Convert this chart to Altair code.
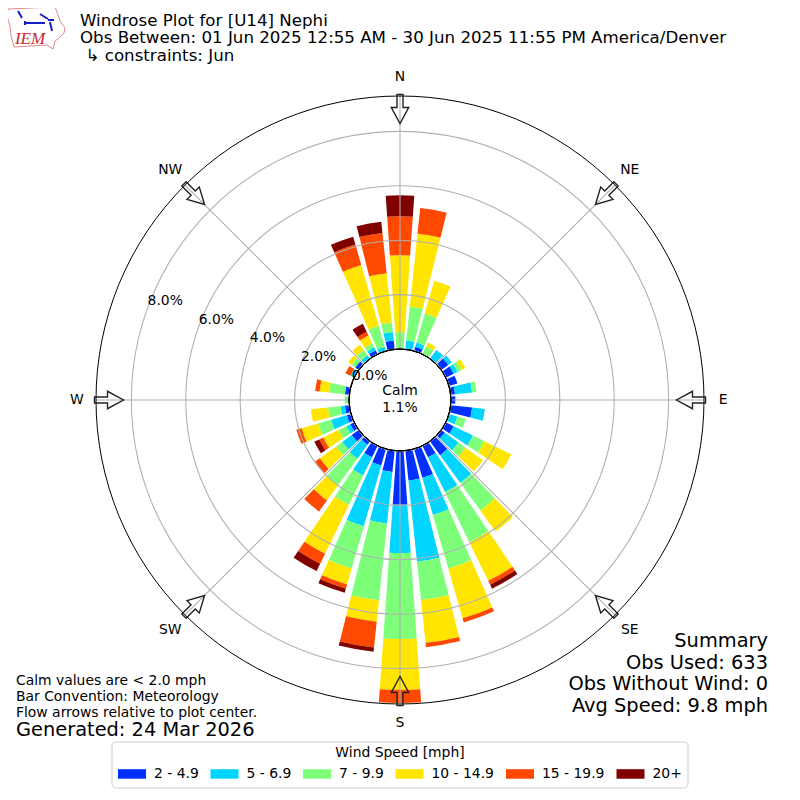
import math
import altair as alt
import pandas as pd

FONT = "DejaVu Sans"
directions = list(range(0, 360, 10))
speed_bins = ["2 - 4.9", "5 - 6.9", "7 - 9.9", "10 - 14.9", "15 - 19.9", "20+"]
bin_colors = ["#0030ff", "#00d4ff", "#7dff7a", "#ffe500", "#ff4800", "#800000"]

# percent of observations per direction (0, 10, ... 350 degrees)
s_2_5 = [0, 0, .16, 0, 0, .32, .32, .32, .16, .16, .79, 0, .32, .16, .63, .47, 1.10, 1.10,
         1.98, .79, .63, .47, .16, .32, .16, .16, .16, 0, .16, 0, 0, .16, 0, .16, 0, .32]
s_5_7 = [0, .32, .16, 0, .40, .16, .16, 0, .63, 0, .47, .32, .79, .63, 1.26, 1.42, 1.42, 3.00,
         1.77, 1.90, 2.32, .74, .63, .43, .16, .60, .16, 0, 0, 0, .16, 0, .16, .12, .16, .32]
s_7_10 = [.62, 1.26, 1.11, .32, 0, 0, .16, 0, .16, 0, 0, .32, .47, .32, 1.26, 2.05, 2.05, 1.42,
          3.16, 2.84, 1.62, 1.20, 1.20, .28, .32, .50, .47, .16, .59, 0, 0, .16, .24, .16, .80, .35]
s_10_15 = [2.83, 2.69, 1.26, .16, 0, 0, .16, 0, 0, 0, 0, 0, 1.10, .79, .95, 1.58, 1.90, 1.58,
           1.87, .79, .61, 2.00, .70, .74, .63, .63, .63, 0, .35, 0, 0, .16, .24, .32, 2.33, 1.82]
s_15_20 = [1.43, .95, 0, 0, 0, 0, 0, 0, 0, 0, 0, 0, 0, 0, 0, .16, .16, .16,
           .48, .95, .16, .41, .50, .22, .16, .20, 0, 0, .16, 0, .20, 0, 0, .16, .78, 1.49]
s_20 = [.77, 0, 0, 0, 0, 0, 0, 0, 0, 0, 0, 0, 0, 0, 0, .16, 0, 0,
        0, .16, .16, .30, 0, 0, .20, 0, 0, 0, 0, 0, 0, 0, 0, .32, .30, .41]
series = [s_2_5, s_5_7, s_7_10, s_10_15, s_15_20, s_20]

compass_names = ["N", "NE", "E", "SE", "S", "SW", "W", "NW"]
compass_angles = [0, 45, 90, 135, 180, 225, 270, 315]
compass_radii = [10.0, 10.07, 10.0, 10.07, 10.0, 10.07, 10.0, 10.07]
ring_values = [2, 4, 6, 8]
ring_labels = ["0.0%", "2.0%", "4.0%", "6.0%", "8.0%"]
ring_label_values = [0, 2, 4, 6, 8]
RMAX = 9.3
BAR_HALF = 4

title_lines = ["Windrose Plot for [U14] Nephi",
               "Obs Between: 01 Jun 2025 12:55 AM - 30 Jun 2025 11:55 PM America/Denver",
               "\u21b3 constraints: Jun"]
left_notes = ["Calm values are < 2.0 mph", "Bar Convention: Meteorology",
              "Flow arrows relative to plot center."]
summary_lines = ["Summary", "Obs Used: 633", "Obs Without Wind: 0", "Avg Speed: 9.8 mph"]

rows = []
for i, d in enumerate(directions):
    base = 0.0
    for b, vals in zip(speed_bins, series):
        v = vals[i]
        if v > 0:
            rows.append(dict(dir=d, bin=b, t0=d - BAR_HALF, t1=d + BAR_HALF, r0=base, r1=base + v))
            base += v
bars_df = pd.DataFrame(rows)

CX, CY = 392, 392
theta_scale = alt.Scale(domain=[0, 360], range=[0, 2 * math.pi])
radius_scale = alt.Scale(domain=[0, RMAX], range=[51, 304], zero=False)
cx, cy = alt.value(CX), alt.value(CY)
GRID = "#b0b0b0"


def th(f):
    return alt.Theta(f, type="quantitative", scale=theta_scale)


def rad(f):
    return alt.Radius(f, type="quantitative", scale=radius_scale)


legend_df = pd.DataFrame({"k": [0]})
legend_box = alt.Chart(legend_df).mark_rect(
    fill="white", stroke="#cccccc", strokeWidth=1, cornerRadius=4
).encode(x=alt.value(104), x2=alt.value(680), y=alt.value(734), y2=alt.value(780))

bars = alt.Chart(bars_df).mark_arc(stroke=None).encode(
    x=cx, y=cy, theta=th("t0"), theta2="t1", radius=rad("r0"), radius2="r1",
    color=alt.Color("bin:N", scale=alt.Scale(domain=speed_bins, range=bin_colors),
                    legend=alt.Legend(
                        title="Wind Speed [mph]", orient="none", legendX=110, legendY=738,
                        direction="horizontal", columns=6, titleAnchor="middle",
                        titleFont=FONT, titleFontSize=13.9, titleFontWeight="normal",
                        titleColor="#000", titlePadding=0, titleLimit=300,
                        labelFont=FONT, labelFontSize=13.9, labelColor="#000", labelOffset=8,
                        symbolType="M-1,-0.34H1V0.34H-1Z", symbolSize=784, symbolStrokeWidth=0,
                        symbolOpacity=1, columnPadding=11.5, padding=0)),
)

rings_df = pd.DataFrame({"r": ring_values, "t0": 0, "t1": 360})
rings = alt.Chart(rings_df).mark_arc(fillOpacity=0, stroke=GRID, strokeWidth=1.1).encode(
    x=cx, y=cy, theta=th("t0"), theta2="t1", radius=rad("r"))

spokes_df = pd.DataFrame({"a": compass_angles})
spokes_df["x0"] = [CX + 51 * math.sin(math.radians(a)) for a in compass_angles]
spokes_df["y0"] = [CY - 51 * math.cos(math.radians(a)) for a in compass_angles]
spokes_df["x1"] = [CX + 304 * math.sin(math.radians(a)) for a in compass_angles]
spokes_df["y1"] = [CY - 304 * math.cos(math.radians(a)) for a in compass_angles]
spokes = alt.Chart(spokes_df).mark_rule(stroke=GRID, strokeWidth=1.1).encode(
    x=alt.X("x0:Q", scale=None), y=alt.Y("y0:Q", scale=None), x2="x1:Q", y2="y1:Q")

center_df = pd.DataFrame({"r": [0], "t0": [0], "t1": [360]})
center = alt.Chart(center_df).mark_arc(fill="white", stroke="black", strokeWidth=1).encode(
    x=cx, y=cy, theta=th("t0"), theta2="t1", radius=rad("r"))

outer_df = pd.DataFrame({"r": [RMAX], "t0": [0], "t1": [360]})
outer = alt.Chart(outer_df).mark_arc(fillOpacity=0, stroke="black", strokeWidth=1).encode(
    x=cx, y=cy, theta=th("t0"), theta2="t1", radius=rad("r"))

ARROW = "M-3,-14.5H3V-1.5H8.7L0,14.5L-8.7,-1.5H-3Z"
arrows_df = pd.DataFrame({"a": compass_angles})
arrows_df["px"] = [CX + 291 * math.sin(math.radians(a)) for a in compass_angles]
arrows_df["py"] = [CY - 291 * math.cos(math.radians(a)) for a in compass_angles]
arrows = alt.Chart(arrows_df).mark_point(
    shape=ARROW, size=4, filled=False, stroke="#222222", strokeWidth=1.4, opacity=1
).encode(x=alt.X("px:Q", scale=None), y=alt.Y("py:Q", scale=None),
         angle=alt.Angle("a:Q", scale=None))

compass_df = pd.DataFrame({"a": compass_angles, "label": compass_names, "r": compass_radii})
compass = alt.Chart(compass_df).mark_text(font=FONT, fontSize=13.9, color="black", baseline="middle").encode(
    x=cx, y=cy, theta=th("a"), radius=rad("r"), text="label:N")

ring_text_df = pd.DataFrame({"a": 290, "r": ring_label_values, "label": ring_labels})
ring_text = alt.Chart(ring_text_df).mark_text(font=FONT, fontSize=13.9, color="black",
                                              align="left", baseline="bottom").encode(
    x=cx, y=cy, theta=th("a"), radius=rad("r"), text="label:N")


def text_layer(lines, xs, ys, size, align="left", **kw):
    df = pd.DataFrame({"t": lines, "px": xs, "py": ys})
    return alt.Chart(df).mark_text(font=kw.pop("font", FONT), fontSize=size, align=align,
                                   baseline="middle", color=kw.pop("color", "black"), **kw).encode(
        x=alt.X("px:Q", scale=None), y=alt.Y("py:Q", scale=None), text="t:N")


titles = text_layer(title_lines, [72, 72, 77.5], [12.5, 30, 47.5], 16.67)
calm = text_layer(["Calm", "1.1%"], [CX, CX], [383, 399.5], 13.9, align="center")
notes = text_layer(left_notes, [8, 8, 8], [672.5, 688.5, 704.5], 13.9)
generated = text_layer(["Generated: 24 Mar 2026"], [8], [721.5], 19.4)
summary = text_layer(summary_lines, [760, 760, 760, 760], [632.5, 654.5, 675.5, 697.5], 19.4, align="right")

IOWA = "M0,3L47,1L49,6L52,15L57,22L56,27L51,32L47,35L45,43L39,39L6,41L3,30L2,20L-1,10Z"
GLYPH = "M10,5L14,12M32,8L40,13M40,14L46,14M42,16L44,25M17,17H37M17,15V19"
logo_df = pd.DataFrame({"px": [0], "py": [0]})
iowa = alt.Chart(logo_df).mark_point(shape=IOWA, size=4, filled=False, stroke="#e08a8a",
                                     strokeWidth=1, opacity=1).encode(
    x=alt.value(0), y=alt.value(-2))
glyph = alt.Chart(logo_df).mark_point(shape=GLYPH, size=4, filled=False, stroke="#1520c8",
                                      strokeWidth=2, opacity=1).encode(
    x=alt.value(0), y=alt.value(-2))
iem = text_layer(["IEM"], [22], [30.5], 17, align="center", font="Liberation Serif",
                 color="#c8262c", fontStyle="italic")

chart = alt.layer(
    legend_box, bars, rings, spokes, center, outer, arrows, compass, ring_text,
    titles, calm, notes, generated, summary, iowa, glyph, iem,
).resolve_scale(x="independent", y="independent").properties(
    width=784, height=784, padding=0,
    autosize=alt.AutoSizeParams(type="none"),
).configure_view(stroke=None)

chart.save("out.html", embed_options={"renderer": "svg", "actions": False})
